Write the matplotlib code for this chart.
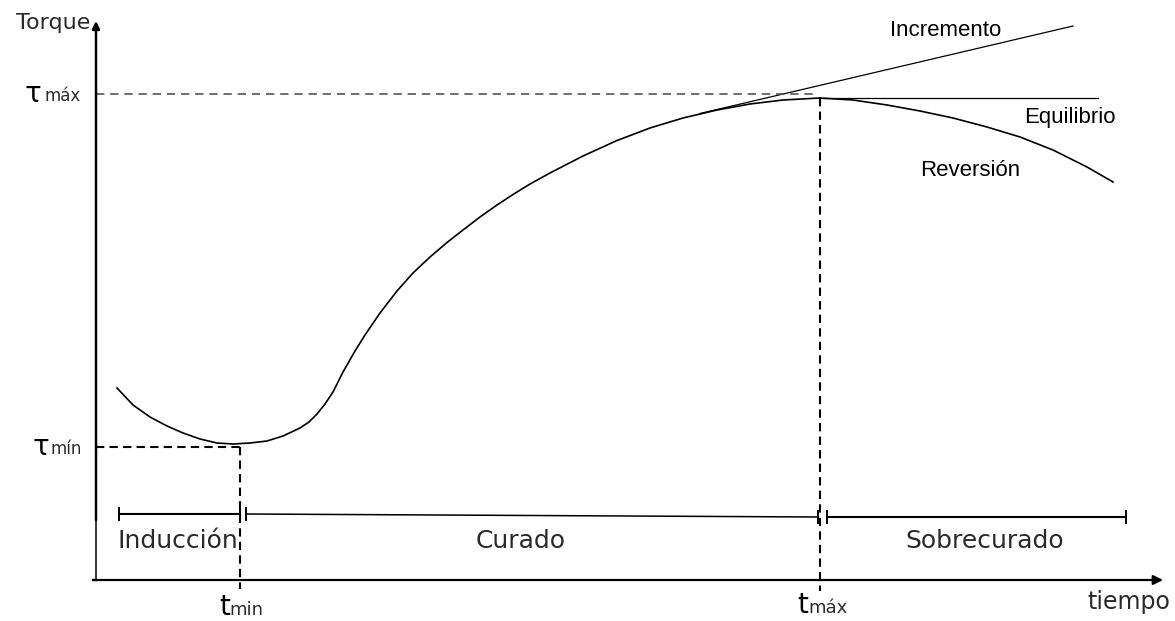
import numpy as np
import matplotlib.pyplot as plt

# curva reométrica: tiempo vs torque (unidades arbitrarias)
t_curva = [21, 37, 54, 71, 87, 104, 121, 137, 154, 171, 187, 204, 213, 221, 229, 237,
           247, 259, 269, 284, 301, 317, 334, 351, 367, 384, 401, 417, 434,
           454, 487, 521, 554, 587, 621, 654, 687, 724]
T_curva = [192, 175, 163, 154, 147, 141, 137, 136, 137, 139, 144, 152, 158, 166, 176, 188,
           208, 229, 245, 267, 289, 307, 323, 337.5, 350, 363, 375, 385.5, 396,
           407, 424, 439.5, 452, 462, 470, 476, 480, 482]

# ramas después de t_max
t_reversion = [724, 757, 791, 824, 857, 891, 924, 957, 991, 1017]
T_reversion = [482, 480, 475, 469, 462, 453, 443, 430, 413, 398]
t_incremento = [604, 977]
T_incremento = [466.5, 554]
t_equilibrio = [724, 1002]
T_equilibrio = [482, 482]

t_min, tau_min = 144, 133
t_max, tau_max = 724, 486

# etapas del curado
etapas = ['Inducción', 'Curado', 'Sobrecurado']
etapa_ini = [23, 150, 731]
etapa_fin = [144, 722, 1030]
etapa_nivel_ini = [66, 66, 63]
etapa_nivel_fin = [66, 63, 63]
etapa_texto_t = [82, 425, 889]

ramas = ['Incremento', 'Equilibrio', 'Reversión']
ramas_t = [850, 974, 874]
ramas_T = [550, 463, 409]

fuente = 'DejaVu Sans'
fuente2 = 'Liberation Sans'
gris = '#2a2a2a'

fig = plt.figure(figsize=(11.75, 6.21), dpi=100)
ax = fig.add_axes([0, 0, 1, 1])
ax.set_xlim(-96, 1079)
ax.set_ylim(-41, 580)
ax.axis('off')

# ejes con flechas
ax.plot([-3, 0], [0, 0], color='k', lw=1.6)
ax.annotate('', xy=(1067, 0), xytext=(-3, 0),
            arrowprops=dict(arrowstyle='-|>', lw=1.6, color='k', mutation_scale=14, shrinkA=0, shrinkB=0))
ax.plot([0, 0], [0, 60], color='k', lw=1.1)
ax.annotate('', xy=(0, 559), xytext=(0, 60),
            arrowprops=dict(arrowstyle='-|>', lw=1.8, color='k', mutation_scale=11, shrinkA=0, shrinkB=0))

# curva y ramas
ax.plot(t_curva, T_curva, color='k', lw=1.2, solid_joinstyle='round')
ax.plot(t_reversion, T_reversion, color='k', lw=1.2, solid_joinstyle='round')
ax.plot(t_incremento, T_incremento, color='k', lw=0.9)
ax.plot(t_equilibrio, T_equilibrio, color='k', lw=0.9)

# líneas de referencia
ax.plot([0, t_max - 5], [tau_max, tau_max], color='#555555', lw=1.2, dashes=(5, 3.5))
ax.plot([t_max, t_max], [T_equilibrio[0], -11], color='k', lw=1.5, dashes=(4, 2.5))
ax.plot([0, t_min], [tau_min, tau_min], color='k', lw=1.5, dashes=(4, 2.5))
ax.plot([t_min, t_min], [tau_min, -9], color='k', lw=1.5, dashes=(4, 2.5))

# barras de etapas
for nombre, a, b, ya, yb, xt in zip(etapas, etapa_ini, etapa_fin, etapa_nivel_ini,
                                    etapa_nivel_fin, etapa_texto_t):
    ax.plot([a, b], [ya, yb], color='k', lw=1.5 if nombre != 'Curado' else 1.1)
    ax.plot([a, a], [ya - 6, ya + 6], color='k', lw=1.4)
    ax.plot([b, b], [yb - 6, yb + 6], color='k', lw=1.4)
    ax.text(xt, 39, nombre, family=fuente, fontsize=18, color=gris,
            ha='center', va='center')

for nombre, x, y in zip(ramas, ramas_t, ramas_T):
    ax.text(x, y, nombre, family=fuente2, fontsize=16, ha='center', va='center')

# rótulos de ejes
ax.text(-6, 557, 'Torque', family=fuente, fontsize=16, color=gris,
        ha='right', va='center')
ax.text(991, -22, 'tiempo', family=fuente, fontsize=17, color=gris,
        ha='left', va='center')

# símbolos con subíndice
ax.text(-63, tau_max, 'τ', fontsize=20, ha='center', va='center')
ax.text(-52, tau_max - 2, 'máx', family=fuente, fontsize=12, color=gris,
        ha='left', va='center')
ax.text(-55, tau_min, 'τ', fontsize=20, ha='center', va='center')
ax.text(-46, tau_min - 2, 'mín', family=fuente, fontsize=12, color=gris,
        ha='left', va='center')
ax.text(t_min - 15, -35, 't', fontsize=20, ha='center', va='baseline')
ax.text(t_min - 11, -35, 'min', family=fuente, fontsize=13, color=gris,
        ha='left', va='baseline')
ax.text(t_max - 17, -33, 't', fontsize=20, ha='center', va='baseline')
ax.text(t_max - 12, -33, 'máx', family=fuente, fontsize=13, color=gris,
        ha='left', va='baseline')

fig.savefig('out.png', dpi=100)
